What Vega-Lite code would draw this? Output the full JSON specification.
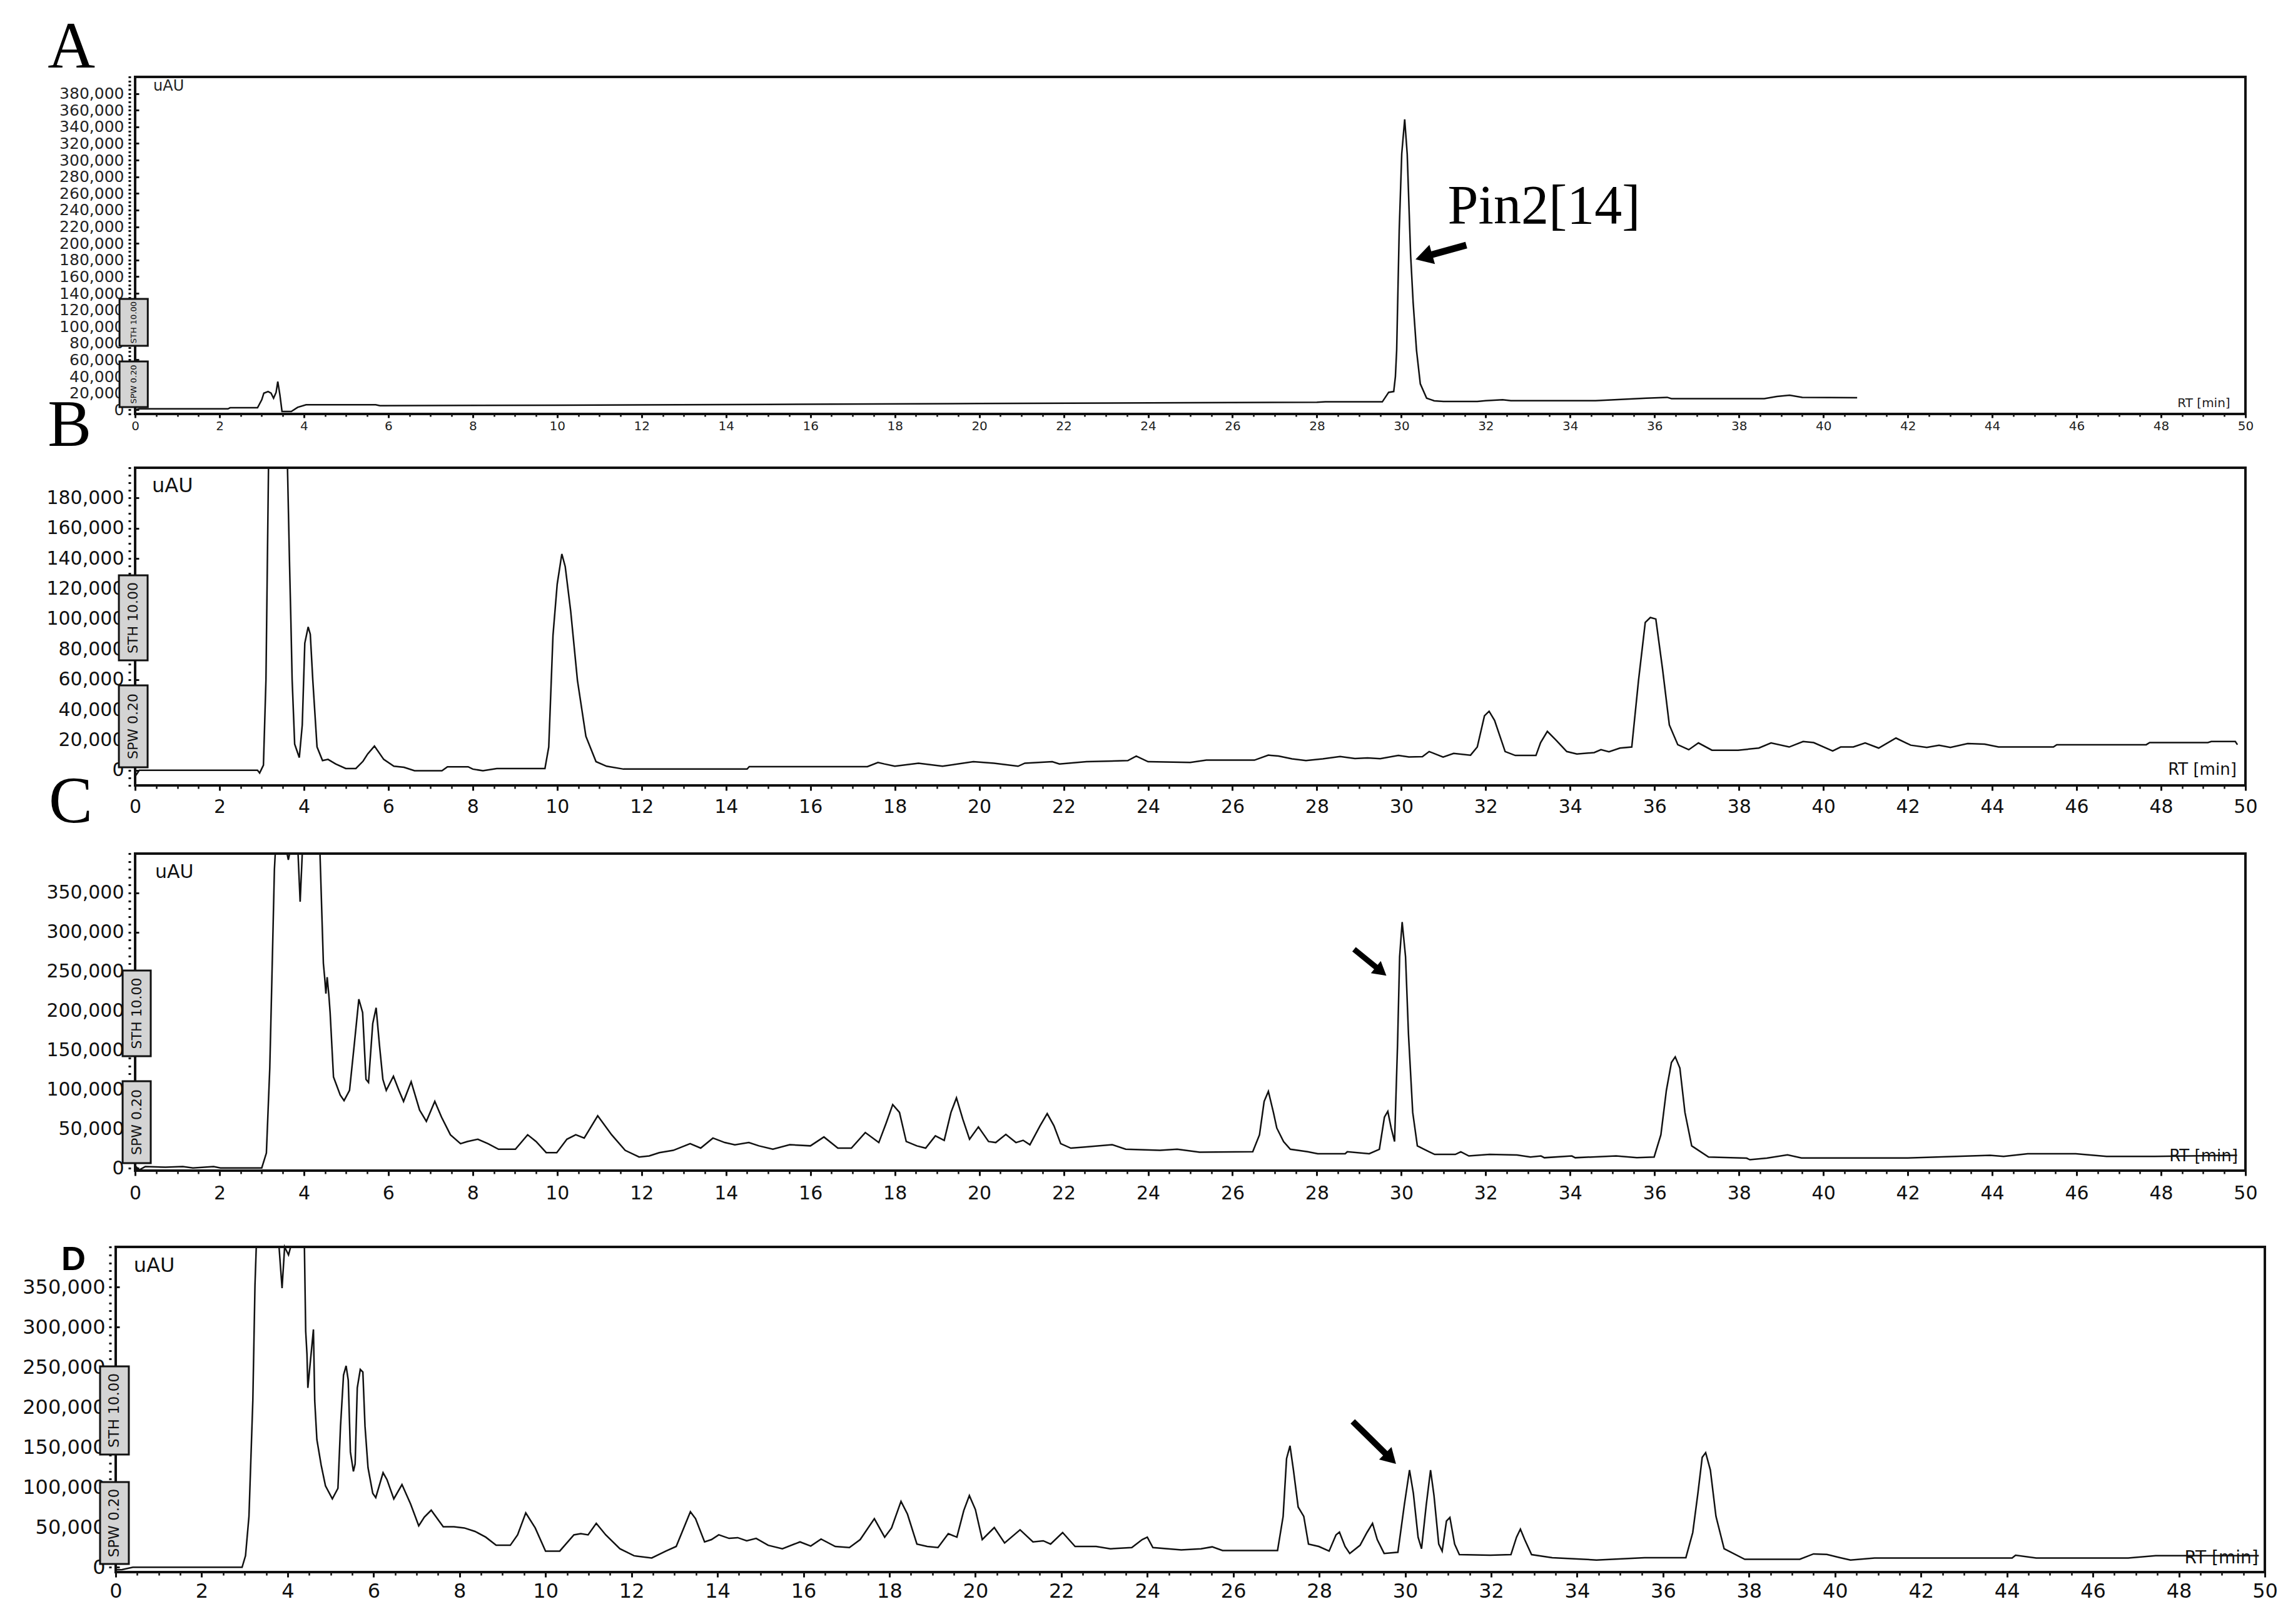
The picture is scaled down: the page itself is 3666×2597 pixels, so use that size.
{
"$schema":"https://vega.github.io/schema/vega-lite/v6.json",
"background":"white",
"padding":0,
"config":{"view":{"stroke":null}},
"spacing":86,
"bounds":"flush",
"datasets":{
"A":[{"t":0,"v":0},{"t":0.1,"v":1200},{"t":2.2,"v":1200},{"t":2.25,"v":2500},{"t":2.9,"v":2500},{"t":3.0,"v":12000},{"t":3.05,"v":20000},{"t":3.15,"v":22000},{"t":3.22,"v":20000},{"t":3.28,"v":14000},{"t":3.34,"v":21000},{"t":3.38,"v":34000},{"t":3.43,"v":18000},{"t":3.48,"v":-2000},{"t":3.7,"v":-2000},{"t":3.85,"v":3000},{"t":4.05,"v":6000},{"t":5.7,"v":6000},{"t":5.8,"v":5000},{"t":10,"v":5500},{"t":15,"v":6500},{"t":20,"v":7500},{"t":25,"v":8500},{"t":28,"v":9000},{"t":28.2,"v":9600},{"t":29.55,"v":9600},{"t":29.7,"v":21000},{"t":29.82,"v":22000},{"t":29.86,"v":40000},{"t":29.89,"v":71600},{"t":29.95,"v":215000},{"t":30.01,"v":307600},{"t":30.08,"v":349000},{"t":30.14,"v":307000},{"t":30.22,"v":186600},{"t":30.28,"v":129000},{"t":30.36,"v":71600},{"t":30.45,"v":31200},{"t":30.6,"v":14000},{"t":30.78,"v":10800},{"t":31.0,"v":10000},{"t":31.8,"v":10000},{"t":32.0,"v":11000},{"t":32.4,"v":12000},{"t":32.6,"v":11000},{"t":34.6,"v":11000},{"t":35.2,"v":12500},{"t":35.8,"v":14000},{"t":36.3,"v":15000},{"t":36.4,"v":13500},{"t":38.6,"v":13500},{"t":38.9,"v":16000},{"t":39.2,"v":17500},{"t":39.5,"v":15000},{"t":40.8,"v":14500}],
"B":[{"t":0,"v":-4000},{"t":0.1,"v":0},{"t":2.9,"v":0},{"t":2.95,"v":-1800},{"t":3.04,"v":3400},{"t":3.1,"v":60000},{"t":3.16,"v":200000},{"t":3.61,"v":200000},{"t":3.66,"v":134700},{"t":3.69,"v":99300},{"t":3.72,"v":60000},{"t":3.78,"v":17300},{"t":3.89,"v":8400},{"t":3.96,"v":30000},{"t":4.02,"v":84000},{"t":4.1,"v":94800},{"t":4.15,"v":90000},{"t":4.21,"v":59400},{"t":4.31,"v":15400},{"t":4.44,"v":6400},{"t":4.57,"v":7200},{"t":4.75,"v":4200},{"t":4.99,"v":1200},{"t":5.23,"v":1200},{"t":5.4,"v":6000},{"t":5.51,"v":10800},{"t":5.67,"v":16000},{"t":5.89,"v":7200},{"t":6.13,"v":2700},{"t":6.37,"v":2000},{"t":6.62,"v":-300},{"t":7.27,"v":-300},{"t":7.4,"v":2300},{"t":7.89,"v":2300},{"t":8.0,"v":800},{"t":8.24,"v":-300},{"t":8.57,"v":1200},{"t":9.71,"v":1200},{"t":9.8,"v":15400},{"t":9.9,"v":89000},{"t":10.0,"v":123000},{"t":10.11,"v":143000},{"t":10.19,"v":134700},{"t":10.32,"v":105200},{"t":10.48,"v":59400},{"t":10.68,"v":22500},{"t":10.92,"v":5700},{"t":11.17,"v":2700},{"t":11.57,"v":800},{"t":14.5,"v":800},{"t":14.55,"v":2400},{"t":17.35,"v":2400},{"t":17.6,"v":5200},{"t":17.75,"v":4200},{"t":18.0,"v":2700},{"t":18.56,"v":4700},{"t":19.13,"v":2700},{"t":19.86,"v":5700},{"t":20.35,"v":4700},{"t":20.92,"v":2700},{"t":21.08,"v":4700},{"t":21.73,"v":5700},{"t":21.9,"v":4200},{"t":22.54,"v":5700},{"t":23.52,"v":6400},{"t":23.72,"v":9400},{"t":24.0,"v":5700},{"t":25.0,"v":5200},{"t":25.38,"v":6700},{"t":26.52,"v":6700},{"t":26.85,"v":10000},{"t":27.09,"v":9400},{"t":27.41,"v":7600},{"t":27.74,"v":6400},{"t":28.14,"v":7600},{"t":28.55,"v":9100},{"t":28.9,"v":7800},{"t":29.2,"v":8200},{"t":29.5,"v":7700},{"t":29.93,"v":9800},{"t":30.18,"v":8800},{"t":30.5,"v":9000},{"t":30.66,"v":12400},{"t":30.99,"v":8700},{"t":31.24,"v":11200},{"t":31.64,"v":10000},{"t":31.8,"v":15400},{"t":31.97,"v":36000},{"t":32.08,"v":39000},{"t":32.21,"v":33000},{"t":32.46,"v":12400},{"t":32.7,"v":9800},{"t":33.19,"v":9800},{"t":33.3,"v":18300},{"t":33.46,"v":25700},{"t":33.67,"v":19800},{"t":33.92,"v":12400},{"t":34.16,"v":10800},{"t":34.57,"v":11700},{"t":34.73,"v":13600},{"t":34.92,"v":12200},{"t":35.18,"v":14700},{"t":35.46,"v":15400},{"t":35.62,"v":59400},{"t":35.78,"v":97800},{"t":35.9,"v":101000},{"t":36.03,"v":100000},{"t":36.19,"v":66800},{"t":36.35,"v":30000},{"t":36.55,"v":16900},{"t":36.81,"v":13600},{"t":37.04,"v":18100},{"t":37.36,"v":13300},{"t":37.98,"v":13300},{"t":38.47,"v":14700},{"t":38.76,"v":18100},{"t":39.19,"v":15400},{"t":39.52,"v":19000},{"t":39.77,"v":18300},{"t":40.22,"v":12800},{"t":40.41,"v":15400},{"t":40.71,"v":15400},{"t":40.99,"v":18100},{"t":41.31,"v":14700},{"t":41.72,"v":21300},{"t":42.07,"v":16600},{"t":42.45,"v":15100},{"t":42.74,"v":16600},{"t":43.01,"v":15100},{"t":43.42,"v":17700},{"t":43.82,"v":17300},{"t":44.15,"v":15400},{"t":45.45,"v":15400},{"t":45.53,"v":16900},{"t":47.65,"v":16900},{"t":47.73,"v":18300},{"t":49.11,"v":18300},{"t":49.19,"v":19000},{"t":49.76,"v":19000},{"t":49.81,"v":16900}],
"C":[{"t":0,"v":3000},{"t":0.1,"v":-2000},{"t":0.24,"v":2100},{"t":0.72,"v":1300},{"t":1.13,"v":2100},{"t":1.37,"v":400},{"t":1.86,"v":2100},{"t":2.02,"v":400},{"t":3.0,"v":400},{"t":3.11,"v":19400},{"t":3.19,"v":127000},{"t":3.24,"v":240000},{"t":3.3,"v":380000},{"t":3.32,"v":400000},{"t":3.6,"v":400000},{"t":3.63,"v":392000},{"t":3.66,"v":400000},{"t":3.86,"v":400000},{"t":3.91,"v":338800},{"t":3.96,"v":400000},{"t":4.38,"v":400000},{"t":4.46,"v":260700},{"t":4.49,"v":243000},{"t":4.52,"v":222000},{"t":4.55,"v":243000},{"t":4.59,"v":220000},{"t":4.62,"v":198000},{"t":4.7,"v":116000},{"t":4.86,"v":93000},{"t":4.95,"v":86000},{"t":5.08,"v":99000},{"t":5.19,"v":156000},{"t":5.3,"v":215000},{"t":5.39,"v":198000},{"t":5.47,"v":113000},{"t":5.53,"v":109000},{"t":5.63,"v":184000},{"t":5.71,"v":204000},{"t":5.79,"v":156000},{"t":5.87,"v":113000},{"t":5.95,"v":99000},{"t":6.12,"v":117000},{"t":6.25,"v":99000},{"t":6.36,"v":85000},{"t":6.54,"v":110000},{"t":6.74,"v":74000},{"t":6.9,"v":59600},{"t":7.1,"v":85000},{"t":7.26,"v":65000},{"t":7.47,"v":42600},{"t":7.71,"v":31300},{"t":7.87,"v":34000},{"t":8.12,"v":36900},{"t":8.36,"v":31300},{"t":8.61,"v":24200},{"t":9.01,"v":24200},{"t":9.3,"v":42600},{"t":9.5,"v":34000},{"t":9.74,"v":19900},{"t":9.99,"v":19900},{"t":10.23,"v":36900},{"t":10.44,"v":42600},{"t":10.64,"v":38400},{"t":10.96,"v":66700},{"t":11.29,"v":42600},{"t":11.61,"v":22800},{"t":11.94,"v":14300},{"t":12.18,"v":15700},{"t":12.42,"v":19900},{"t":12.75,"v":22800},{"t":13.15,"v":31300},{"t":13.4,"v":25600},{"t":13.69,"v":38400},{"t":13.97,"v":32700},{"t":14.21,"v":29900},{"t":14.54,"v":32700},{"t":14.78,"v":28500},{"t":15.11,"v":24200},{"t":15.51,"v":29900},{"t":16.0,"v":28500},{"t":16.32,"v":39800},{"t":16.65,"v":25600},{"t":16.97,"v":25600},{"t":17.3,"v":45400},{"t":17.62,"v":32700},{"t":17.79,"v":56800},{"t":17.95,"v":80900},{"t":18.11,"v":71000},{"t":18.27,"v":34000},{"t":18.52,"v":28500},{"t":18.73,"v":25600},{"t":18.96,"v":41200},{"t":19.17,"v":35500},{"t":19.33,"v":71000},{"t":19.46,"v":89400},{"t":19.61,"v":62500},{"t":19.77,"v":36900},{"t":19.98,"v":52600},{"t":20.22,"v":34000},{"t":20.39,"v":32700},{"t":20.63,"v":43100},{"t":20.87,"v":32700},{"t":21.04,"v":35500},{"t":21.2,"v":29900},{"t":21.44,"v":54000},{"t":21.61,"v":69500},{"t":21.77,"v":54000},{"t":21.93,"v":31300},{"t":22.17,"v":25600},{"t":22.5,"v":27000},{"t":23.15,"v":29900},{"t":23.47,"v":24200},{"t":24.28,"v":22800},{"t":24.69,"v":24200},{"t":25.22,"v":20500},{"t":26.48,"v":21000},{"t":26.64,"v":42600},{"t":26.75,"v":85000},{"t":26.85,"v":97700},{"t":26.97,"v":71000},{"t":27.05,"v":51100},{"t":27.21,"v":34000},{"t":27.37,"v":24200},{"t":27.78,"v":21000},{"t":28.02,"v":18500},{"t":28.67,"v":18500},{"t":28.72,"v":21000},{"t":29.24,"v":18500},{"t":29.48,"v":24200},{"t":29.6,"v":65000},{"t":29.68,"v":72400},{"t":29.76,"v":51100},{"t":29.84,"v":34000},{"t":29.91,"v":156000},{"t":29.96,"v":269000},{"t":30.02,"v":313000},{"t":30.1,"v":269000},{"t":30.17,"v":170000},{"t":30.27,"v":71000},{"t":30.38,"v":28500},{"t":30.54,"v":24200},{"t":30.79,"v":17600},{"t":31.28,"v":17600},{"t":31.41,"v":21000},{"t":31.6,"v":15600},{"t":32.09,"v":17600},{"t":32.74,"v":16800},{"t":33.06,"v":14300},{"t":33.31,"v":15600},{"t":33.39,"v":13400},{"t":34.04,"v":15600},{"t":34.12,"v":13400},{"t":35.09,"v":15600},{"t":35.58,"v":13400},{"t":35.99,"v":14300},{"t":36.15,"v":42600},{"t":36.28,"v":99000},{"t":36.4,"v":134500},{"t":36.49,"v":141600},{"t":36.6,"v":127400},{"t":36.72,"v":71000},{"t":36.88,"v":28500},{"t":37.28,"v":14300},{"t":38.18,"v":12900},{"t":38.26,"v":10900},{"t":38.66,"v":12900},{"t":39.15,"v":17000},{"t":39.48,"v":13100},{"t":42.0,"v":13100},{"t":43.95,"v":16500},{"t":44.27,"v":15100},{"t":44.84,"v":18500},{"t":45.98,"v":18500},{"t":46.71,"v":15100},{"t":47.85,"v":15100},{"t":49.8,"v":16500}],
"D":[{"t":0,"v":-3000},{"t":0.15,"v":-2900},{"t":0.4,"v":0},{"t":2.94,"v":0},{"t":3.02,"v":14400},{"t":3.1,"v":63600},{"t":3.19,"v":208000},{"t":3.24,"v":352000},{"t":3.27,"v":400000},{"t":3.8,"v":400000},{"t":3.87,"v":348500},{"t":3.93,"v":400000},{"t":4.02,"v":390000},{"t":4.07,"v":400000},{"t":4.39,"v":400000},{"t":4.42,"v":294600},{"t":4.45,"v":265700},{"t":4.47,"v":224000},{"t":4.6,"v":297000},{"t":4.63,"v":208000},{"t":4.68,"v":159500},{"t":4.78,"v":127500},{"t":4.88,"v":101700},{"t":5.04,"v":85400},{"t":5.17,"v":98600},{"t":5.23,"v":176000},{"t":5.3,"v":240000},{"t":5.36,"v":251600},{"t":5.41,"v":233700},{"t":5.46,"v":144000},{"t":5.53,"v":119700},{"t":5.57,"v":129000},{"t":5.62,"v":224000},{"t":5.69,"v":247000},{"t":5.75,"v":243800},{"t":5.8,"v":176000},{"t":5.87,"v":124400},{"t":5.98,"v":92400},{"t":6.05,"v":87000},{"t":6.22,"v":118100},{"t":6.31,"v":109600},{"t":6.47,"v":85400},{"t":6.66,"v":103300},{"t":6.86,"v":79100},{"t":7.05,"v":51800},{"t":7.18,"v":62700},{"t":7.34,"v":71300},{"t":7.62,"v":50600},{"t":7.87,"v":50600},{"t":8.11,"v":49100},{"t":8.36,"v":44800},{"t":8.61,"v":37600},{"t":8.85,"v":27500},{"t":9.18,"v":27500},{"t":9.35,"v":40500},{"t":9.54,"v":67900},{"t":9.76,"v":49100},{"t":10.0,"v":20200},{"t":10.33,"v":20200},{"t":10.66,"v":40500},{"t":10.82,"v":42000},{"t":10.99,"v":40500},{"t":11.18,"v":54900},{"t":11.4,"v":40500},{"t":11.73,"v":23100},{"t":12.06,"v":14400},{"t":12.47,"v":11600},{"t":12.8,"v":20200},{"t":13.04,"v":26000},{"t":13.26,"v":54900},{"t":13.37,"v":69300},{"t":13.49,"v":60700},{"t":13.7,"v":31700},{"t":13.86,"v":34600},{"t":14.03,"v":40500},{"t":14.27,"v":36100},{"t":14.47,"v":37000},{"t":14.68,"v":33100},{"t":14.9,"v":36100},{"t":15.18,"v":27500},{"t":15.51,"v":23100},{"t":15.92,"v":31700},{"t":16.17,"v":26500},{"t":16.41,"v":35200},{"t":16.74,"v":26000},{"t":17.07,"v":24600},{"t":17.32,"v":34600},{"t":17.65,"v":60700},{"t":17.89,"v":37600},{"t":18.05,"v":49100},{"t":18.27,"v":82300},{"t":18.42,"v":66400},{"t":18.64,"v":29000},{"t":18.88,"v":26000},{"t":19.13,"v":24600},{"t":19.37,"v":42000},{"t":19.57,"v":37600},{"t":19.73,"v":70800},{"t":19.86,"v":89500},{"t":20.0,"v":72200},{"t":20.16,"v":34600},{"t":20.44,"v":49600},{"t":20.68,"v":30300},{"t":21.04,"v":46800},{"t":21.34,"v":31700},{"t":21.58,"v":33100},{"t":21.75,"v":29000},{"t":22.03,"v":43400},{"t":22.32,"v":26000},{"t":22.81,"v":26000},{"t":23.14,"v":23100},{"t":23.64,"v":24600},{"t":23.88,"v":34600},{"t":24.0,"v":37600},{"t":24.13,"v":24600},{"t":24.79,"v":21700},{"t":25.25,"v":23100},{"t":25.51,"v":25500},{"t":25.75,"v":20900},{"t":27.03,"v":20900},{"t":27.16,"v":63600},{"t":27.24,"v":135800},{"t":27.32,"v":151700},{"t":27.4,"v":121400},{"t":27.51,"v":75200},{"t":27.64,"v":63600},{"t":27.75,"v":28900},{"t":27.99,"v":26000},{"t":28.23,"v":20200},{"t":28.39,"v":40500},{"t":28.47,"v":43900},{"t":28.6,"v":26000},{"t":28.71,"v":17300},{"t":28.95,"v":27500},{"t":29.11,"v":43400},{"t":29.24,"v":54900},{"t":29.35,"v":34600},{"t":29.51,"v":17300},{"t":29.83,"v":18800},{"t":29.98,"v":78000},{"t":30.1,"v":121400},{"t":30.19,"v":92500},{"t":30.3,"v":37600},{"t":30.38,"v":23100},{"t":30.49,"v":78000},{"t":30.59,"v":121400},{"t":30.67,"v":89500},{"t":30.78,"v":29000},{"t":30.86,"v":20200},{"t":30.96,"v":57800},{"t":31.04,"v":62200},{"t":31.15,"v":29000},{"t":31.26,"v":15800},{"t":31.98,"v":15000},{"t":32.46,"v":15800},{"t":32.59,"v":37600},{"t":32.68,"v":47700},{"t":32.78,"v":34600},{"t":32.94,"v":15800},{"t":33.42,"v":12000},{"t":34.45,"v":9100},{"t":35.57,"v":12000},{"t":36.53,"v":12000},{"t":36.69,"v":43400},{"t":36.81,"v":92500},{"t":36.91,"v":137300},{"t":36.99,"v":143100},{"t":37.1,"v":121400},{"t":37.23,"v":63600},{"t":37.42,"v":23100},{"t":37.9,"v":10000},{"t":39.18,"v":10000},{"t":39.5,"v":16700},{"t":39.81,"v":16000},{"t":40.12,"v":12000},{"t":40.36,"v":9100},{"t":40.92,"v":11500},{"t":44.12,"v":11500},{"t":44.2,"v":15000},{"t":44.68,"v":11500},{"t":46.82,"v":11500},{"t":47.46,"v":14400},{"t":49.86,"v":14400}]
},
"vconcat":[
{
"width":3436,"height":539,
"resolve":{"axis":{"x":"independent","y":"independent"}},
"layer":[
{"data":{"name":"A"},"mark":{"type":"line","color":"#111","strokeWidth":2.5},
"encoding":{
"x":{"field":"t","type":"quantitative","scale":{"domain":[-0.46,50.46],"nice":false,"zero":false},"axis":{"orient":"bottom","values":[0,2,4,6,8,10,12,14,16,18,20,22,24,26,28,30,32,34,36,38,40,42,44,46,48,50],"title":null,"domain":false,"grid":false,"tickSize":6,"tickWidth":3,"tickColor":"#111","labelPadding":3,"labelFont":"DejaVu Sans","labelFontSize":20,"labelColor":"#222","labelFlush":false,"labelOverlap":false}},
"y":{"field":"v","type":"quantitative","scale":{"domain":[-5000,400000],"nice":false,"zero":false},"axis":{"orient":"left","values":[0,20000,40000,60000,80000,100000,120000,140000,160000,180000,200000,220000,240000,260000,280000,300000,320000,340000,360000,380000],"format":",d","offset":-31,"title":null,"domain":false,"grid":false,"tickSize":-6,"tickWidth":3,"tickColor":"#111","labelPadding":24,"labelFont":"DejaVu Sans","labelFontSize":25,"labelColor":"#222","labelOverlap":false,"labelFlush":false}}}},
{"data":{"values":[{}]},"mark":{"type":"rect","filled":false,"color":"#111","strokeWidth":4},
"encoding":{
"x":{"datum":0,"type":"quantitative","axis":{"orient":"bottom","tickCount":100,"labels":false,"title":null,"domain":false,"grid":false,"tickSize":4,"tickWidth":2.5,"tickColor":"#111"}},
"x2":{"datum":50},
"y":{"datum":-5000,"type":"quantitative","axis":{"orient":"left","tickCount":81,"offset":-24,"labels":false,"title":null,"domain":false,"grid":false,"tickSize":4,"tickWidth":3,"tickColor":"#111"}},
"y2":{"datum":400000}}},
{"data":{"values":[{}]},"mark":{"type":"rect","fill":"#d4d4d4","stroke":"#111","strokeWidth":3},"encoding":{"x":{"datum":-0.37,"type":"quantitative","axis":null},"x2":{"datum":0.3},"y":{"datum":76900,"type":"quantitative","axis":null},"y2":{"datum":133250}}},
{"data":{"values":[{}]},"mark":{"type":"rect","fill":"#d4d4d4","stroke":"#111","strokeWidth":3},"encoding":{"x":{"datum":-0.37,"type":"quantitative","axis":null},"x2":{"datum":0.3},"y":{"datum":3300,"type":"quantitative","axis":null},"y2":{"datum":58100}}},
{"data":{"values":[{}]},"mark":{"type":"text","text":"STH 10.00","angle":270,"align":"center","baseline":"middle","font":"DejaVu Sans","fontSize":13,"color":"#111"},"encoding":{"x":{"datum":-0.035,"type":"quantitative","axis":null},"y":{"datum":105000,"type":"quantitative","axis":null}}},
{"data":{"values":[{}]},"mark":{"type":"text","text":"SPW 0.20","angle":270,"align":"center","baseline":"middle","font":"DejaVu Sans","fontSize":13,"color":"#111"},"encoding":{"x":{"datum":-0.035,"type":"quantitative","axis":null},"y":{"datum":30700,"type":"quantitative","axis":null}}},
{"data":{"values":[{}]},"mark":{"type":"text","text":"uAU","align":"left","baseline":"alphabetic","font":"DejaVu Sans","fontSize":24,"color":"#222"},"encoding":{"x":{"datum":0.43,"type":"quantitative","axis":null},"y":{"datum":383500,"type":"quantitative","axis":null}}},
{"data":{"values":[{}]},"mark":{"type":"text","text":"RT [min]","align":"right","baseline":"alphabetic","font":"DejaVu Sans","fontSize":20,"color":"#222"},"encoding":{"x":{"datum":49.64,"type":"quantitative","axis":null},"y":{"datum":3300,"type":"quantitative","axis":null}}},
{"data":{"values":[{}]},"mark":{"type":"text","text":"A","align":"left","baseline":"alphabetic","font":"Liberation Serif","fontSize":105,"color":"#000"},"encoding":{"x":{"datum":-2.07,"type":"quantitative","axis":null},"y":{"datum":411300,"type":"quantitative","axis":null}}},
{"data":{"values":[{}]},"mark":{"type":"text","text":"Pin2[14]","align":"left","baseline":"alphabetic","font":"Liberation Serif","fontSize":88,"color":"#000"},"encoding":{"x":{"datum":31.1,"type":"quantitative","axis":null},"y":{"datum":224200,"type":"quantitative","axis":null}}},
{"data":{"values":[{}]},"mark":{"type":"rule","color":"#000","strokeWidth":11,"strokeCap":"butt"},"encoding":{"x":{"datum":31.54,"type":"quantitative","axis":null},"x2":{"datum":30.6},"y":{"datum":197900,"type":"quantitative","axis":null},"y2":{"datum":184700}}},
{"data":{"values":[{}]},"mark":{"type":"point","shape":"triangle","filled":true,"color":"#000","opacity":1,"size":1024,"angle":254},"encoding":{"x":{"datum":30.6,"type":"quantitative","axis":null},"y":{"datum":184700,"type":"quantitative","axis":null}}},
{"data":{"values":[{}]},"mark":{"type":"rule","opacity":0},"encoding":{"x":{"datum":-3.2,"type":"quantitative","axis":null},"x2":{"datum":-3.2},"y":{"datum":491700,"type":"quantitative","axis":null},"y2":{"datum":491700}}}
]
},
{
"width":3436,"height":508,
"resolve":{"axis":{"x":"independent","y":"independent"}},
"layer":[
{"data":{"name":"B"},"mark":{"type":"line","color":"#111","strokeWidth":2.5},
"encoding":{
"x":{"field":"t","type":"quantitative","scale":{"domain":[-0.46,50.46],"nice":false,"zero":false},"axis":{"orient":"bottom","values":[0,2,4,6,8,10,12,14,16,18,20,22,24,26,28,30,32,34,36,38,40,42,44,46,48,50],"title":null,"domain":false,"grid":false,"tickSize":8,"tickWidth":3,"tickColor":"#111","labelPadding":11,"labelFont":"DejaVu Sans","labelFontSize":30,"labelColor":"#111","labelFlush":false,"labelOverlap":false}},
"y":{"field":"v","type":"quantitative","scale":{"domain":[-10000,200000],"nice":false,"zero":false},"axis":{"orient":"left","values":[0,20000,40000,60000,80000,100000,120000,140000,160000,180000],"format":",d","offset":-31,"title":null,"domain":false,"grid":false,"tickSize":-6,"tickWidth":3,"tickColor":"#111","labelPadding":24,"labelFont":"DejaVu Sans","labelFontSize":30,"labelColor":"#111","labelOverlap":false,"labelFlush":false}}}},
{"data":{"values":[{}]},"mark":{"type":"rect","filled":false,"color":"#111","strokeWidth":4},
"encoding":{
"x":{"datum":0,"type":"quantitative","axis":{"orient":"bottom","tickCount":100,"labels":false,"title":null,"domain":false,"grid":false,"tickSize":5,"tickWidth":2.5,"tickColor":"#111"}},
"x2":{"datum":50},
"y":{"datum":-10000,"type":"quantitative","axis":{"orient":"left","tickCount":42,"offset":-24,"labels":false,"title":null,"domain":false,"grid":false,"tickSize":4,"tickWidth":3,"tickColor":"#111"}},
"y2":{"datum":200000}}},
{"data":{"values":[{}]},"mark":{"type":"rect","fill":"#d4d4d4","stroke":"#111","strokeWidth":3},"encoding":{"x":{"datum":-0.385,"type":"quantitative","axis":null},"x2":{"datum":0.296},"y":{"datum":72700,"type":"quantitative","axis":null},"y2":{"datum":128900}}},
{"data":{"values":[{}]},"mark":{"type":"rect","fill":"#d4d4d4","stroke":"#111","strokeWidth":3},"encoding":{"x":{"datum":-0.385,"type":"quantitative","axis":null},"x2":{"datum":0.296},"y":{"datum":2000,"type":"quantitative","axis":null},"y2":{"datum":56100}}},
{"data":{"values":[{}]},"mark":{"type":"text","text":"STH 10.00","angle":270,"align":"center","baseline":"middle","font":"DejaVu Sans","fontSize":22,"color":"#111"},"encoding":{"x":{"datum":-0.045,"type":"quantitative","axis":null},"y":{"datum":100800,"type":"quantitative","axis":null}}},
{"data":{"values":[{}]},"mark":{"type":"text","text":"SPW 0.20","angle":270,"align":"center","baseline":"middle","font":"DejaVu Sans","fontSize":22,"color":"#111"},"encoding":{"x":{"datum":-0.045,"type":"quantitative","axis":null},"y":{"datum":29050,"type":"quantitative","axis":null}}},
{"data":{"values":[{}]},"mark":{"type":"text","text":"uAU","align":"left","baseline":"alphabetic","font":"DejaVu Sans","fontSize":32,"color":"#111"},"encoding":{"x":{"datum":0.4,"type":"quantitative","axis":null},"y":{"datum":183900,"type":"quantitative","axis":null}}},
{"data":{"values":[{}]},"mark":{"type":"text","text":"RT [min]","align":"right","baseline":"alphabetic","font":"DejaVu Sans","fontSize":26,"color":"#111"},"encoding":{"x":{"datum":49.79,"type":"quantitative","axis":null},"y":{"datum":-3000,"type":"quantitative","axis":null}}},
{"data":{"values":[{}]},"mark":{"type":"text","text":"B","align":"left","baseline":"alphabetic","font":"Liberation Serif","fontSize":105,"color":"#000"},"encoding":{"x":{"datum":-2.07,"type":"quantitative","axis":null},"y":{"datum":214470,"type":"quantitative","axis":null}}}
]
},
{
"width":3436,"height":530,
"resolve":{"axis":{"x":"independent","y":"independent"}},
"layer":[
{"data":{"name":"C"},"mark":{"type":"line","color":"#111","strokeWidth":2.5},
"encoding":{
"x":{"field":"t","type":"quantitative","scale":{"domain":[-0.46,50.46],"nice":false,"zero":false},"axis":{"orient":"bottom","values":[0,2,4,6,8,10,12,14,16,18,20,22,24,26,28,30,32,34,36,38,40,42,44,46,48,50],"title":null,"domain":false,"grid":false,"tickSize":8,"tickWidth":3,"tickColor":"#111","labelPadding":13,"labelFont":"DejaVu Sans","labelFontSize":30,"labelColor":"#111","labelFlush":false,"labelOverlap":false}},
"y":{"field":"v","type":"quantitative","scale":{"domain":[-3000,418300],"nice":false,"zero":false},"axis":{"orient":"left","values":[0,50000,100000,150000,200000,250000,300000,350000],"format":",d","offset":-31,"title":null,"domain":false,"grid":false,"tickSize":-6,"tickWidth":3,"tickColor":"#111","labelPadding":24,"labelFont":"DejaVu Sans","labelFontSize":30,"labelColor":"#111","labelOverlap":false,"labelFlush":false}}}},
{"data":{"values":[{}]},"mark":{"type":"rect","filled":false,"color":"#111","strokeWidth":4},
"encoding":{
"x":{"datum":0,"type":"quantitative","axis":{"orient":"bottom","tickCount":100,"labels":false,"title":null,"domain":false,"grid":false,"tickSize":5,"tickWidth":2.5,"tickColor":"#111"}},
"x2":{"datum":50},
"y":{"datum":-3000,"type":"quantitative","axis":{"orient":"left","values":[0,10000,20000,30000,40000,50000,60000,70000,80000,90000,100000,110000,120000,130000,140000,150000,160000,170000,180000,190000,200000,210000,220000,230000,240000,250000,260000,270000,280000,290000,300000,310000,320000,330000,340000,350000,360000,370000,380000,390000,400000],"offset":-24,"labels":false,"title":null,"domain":false,"grid":false,"tickSize":4,"tickWidth":3,"tickColor":"#111"}},
"y2":{"datum":400000}}},
{"data":{"values":[{}]},"mark":{"type":"rect","fill":"#d4d4d4","stroke":"#111","strokeWidth":3},"encoding":{"x":{"datum":-0.296,"type":"quantitative","axis":null},"x2":{"datum":0.37},"y":{"datum":142400,"type":"quantitative","axis":null},"y2":{"datum":251400}}},
{"data":{"values":[{}]},"mark":{"type":"rect","fill":"#d4d4d4","stroke":"#111","strokeWidth":3},"encoding":{"x":{"datum":-0.296,"type":"quantitative","axis":null},"x2":{"datum":0.37},"y":{"datum":6500,"type":"quantitative","axis":null},"y2":{"datum":110700}}},
{"data":{"values":[{}]},"mark":{"type":"text","text":"STH 10.00","angle":270,"align":"center","baseline":"middle","font":"DejaVu Sans","fontSize":22,"color":"#111"},"encoding":{"x":{"datum":0.037,"type":"quantitative","axis":null},"y":{"datum":196900,"type":"quantitative","axis":null}}},
{"data":{"values":[{}]},"mark":{"type":"text","text":"SPW 0.20","angle":270,"align":"center","baseline":"middle","font":"DejaVu Sans","fontSize":22,"color":"#111"},"encoding":{"x":{"datum":0.037,"type":"quantitative","axis":null},"y":{"datum":58600,"type":"quantitative","axis":null}}},
{"data":{"values":[{}]},"mark":{"type":"text","text":"uAU","align":"left","baseline":"alphabetic","font":"DejaVu Sans","fontSize":30,"color":"#111"},"encoding":{"x":{"datum":0.474,"type":"quantitative","axis":null},"y":{"datum":369000,"type":"quantitative","axis":null}}},
{"data":{"values":[{}]},"mark":{"type":"text","text":"RT [min]","align":"right","baseline":"alphabetic","font":"DejaVu Sans","fontSize":26,"color":"#111"},"encoding":{"x":{"datum":49.82,"type":"quantitative","axis":null},"y":{"datum":8900,"type":"quantitative","axis":null}}},
{"data":{"values":[{}]},"mark":{"type":"text","text":"C","align":"left","baseline":"alphabetic","font":"Liberation Serif","fontSize":105,"color":"#000"},"encoding":{"x":{"datum":-2.045,"type":"quantitative","axis":null},"y":{"datum":439700,"type":"quantitative","axis":null}}},
{"data":{"values":[{}]},"mark":{"type":"rule","color":"#000","strokeWidth":9,"strokeCap":"butt"},"encoding":{"x":{"datum":28.88,"type":"quantitative","axis":null},"x2":{"datum":29.48},"y":{"datum":278400,"type":"quantitative","axis":null},"y2":{"datum":252100}}},
{"data":{"values":[{}]},"mark":{"type":"point","shape":"triangle","filled":true,"color":"#000","opacity":1,"size":625,"angle":129},"encoding":{"x":{"datum":29.48,"type":"quantitative","axis":null},"y":{"datum":252100,"type":"quantitative","axis":null}}}
]
},
{
"width":3436,"height":556,
"resolve":{"axis":{"x":"independent","y":"independent"}},
"layer":[
{"data":{"name":"D"},"mark":{"type":"line","color":"#111","strokeWidth":2.5},
"encoding":{
"x":{"field":"t","type":"quantitative","scale":{"domain":[0,50],"nice":false,"zero":false},"axis":{"orient":"bottom","values":[0,2,4,6,8,10,12,14,16,18,20,22,24,26,28,30,32,34,36,38,40,42,44,46,48,50],"title":null,"domain":false,"grid":false,"tickSize":8,"tickWidth":3,"tickColor":"#111","labelPadding":7,"labelFont":"DejaVu Sans","labelFontSize":32,"labelColor":"#111","labelFlush":false,"labelOverlap":false}},
"y":{"field":"v","type":"quantitative","scale":{"domain":[-6000,428100],"nice":false,"zero":false},"axis":{"orient":"left","values":[0,50000,100000,150000,200000,250000,300000,350000],"format":",d","offset":0,"title":null,"domain":false,"grid":false,"tickSize":-6,"tickWidth":3,"tickColor":"#111","labelPadding":23,"labelFont":"DejaVu Sans","labelFontSize":32,"labelColor":"#111","labelOverlap":false,"labelFlush":false}}}},
{"data":{"values":[{}]},"mark":{"type":"rect","filled":false,"color":"#111","strokeWidth":4},
"encoding":{
"x":{"datum":0,"type":"quantitative","axis":{"orient":"bottom","tickCount":100,"labels":false,"title":null,"domain":false,"grid":false,"tickSize":5,"tickWidth":2.5,"tickColor":"#111"}},
"x2":{"datum":50},
"y":{"datum":-6000,"type":"quantitative","axis":{"orient":"left","values":[0,10000,20000,30000,40000,50000,60000,70000,80000,90000,100000,110000,120000,130000,140000,150000,160000,170000,180000,190000,200000,210000,220000,230000,240000,250000,260000,270000,280000,290000,300000,310000,320000,330000,340000,350000,360000,370000,380000,390000,400000],"offset":7,"labels":false,"title":null,"domain":false,"grid":false,"tickSize":4,"tickWidth":3,"tickColor":"#111"}},
"y2":{"datum":400000}}},
{"data":{"values":[{}]},"mark":{"type":"rect","fill":"#d4d4d4","stroke":"#111","strokeWidth":3},"encoding":{"x":{"datum":-0.364,"type":"quantitative","axis":null},"x2":{"datum":0.305},"y":{"datum":140800,"type":"quantitative","axis":null},"y2":{"datum":250900}}},
{"data":{"values":[{}]},"mark":{"type":"rect","fill":"#d4d4d4","stroke":"#111","strokeWidth":3},"encoding":{"x":{"datum":-0.364,"type":"quantitative","axis":null},"x2":{"datum":0.305},"y":{"datum":4200,"type":"quantitative","axis":null},"y2":{"datum":106400}}},
{"data":{"values":[{}]},"mark":{"type":"text","text":"STH 10.00","angle":270,"align":"center","baseline":"middle","font":"DejaVu Sans","fontSize":23,"color":"#111"},"encoding":{"x":{"datum":-0.03,"type":"quantitative","axis":null},"y":{"datum":195850,"type":"quantitative","axis":null}}},
{"data":{"values":[{}]},"mark":{"type":"text","text":"SPW 0.20","angle":270,"align":"center","baseline":"middle","font":"DejaVu Sans","fontSize":23,"color":"#111"},"encoding":{"x":{"datum":-0.03,"type":"quantitative","axis":null},"y":{"datum":55300,"type":"quantitative","axis":null}}},
{"data":{"values":[{}]},"mark":{"type":"text","text":"uAU","align":"left","baseline":"alphabetic","font":"DejaVu Sans","fontSize":32,"color":"#111"},"encoding":{"x":{"datum":0.42,"type":"quantitative","axis":null},"y":{"datum":368800,"type":"quantitative","axis":null}}},
{"data":{"values":[{}]},"mark":{"type":"text","text":"RT [min]","align":"right","baseline":"alphabetic","font":"DejaVu Sans","fontSize":28,"color":"#111"},"encoding":{"x":{"datum":49.85,"type":"quantitative","axis":null},"y":{"datum":4900,"type":"quantitative","axis":null}}},
{"data":{"values":[{}]},"mark":{"type":"text","text":"D","align":"left","baseline":"alphabetic","font":"Liberation Sans","fontWeight":"bold","fontSize":54,"color":"#000"},"encoding":{"x":{"datum":-1.266,"type":"quantitative","axis":null},"y":{"datum":371100,"type":"quantitative","axis":null}}},
{"data":{"values":[{}]},"mark":{"type":"rule","color":"#000","strokeWidth":10,"strokeCap":"butt"},"encoding":{"x":{"datum":28.78,"type":"quantitative","axis":null},"x2":{"datum":29.62},"y":{"datum":182200,"type":"quantitative","axis":null},"y2":{"datum":137900}}},
{"data":{"values":[{}]},"mark":{"type":"point","shape":"triangle","filled":true,"color":"#000","opacity":1,"size":784,"angle":135},"encoding":{"x":{"datum":29.62,"type":"quantitative","axis":null},"y":{"datum":137900,"type":"quantitative","axis":null}}},
{"data":{"values":[{}]},"mark":{"type":"rule","opacity":0},"encoding":{"x":{"datum":50.5,"type":"quantitative","axis":null},"x2":{"datum":50.5},"y":{"datum":-66000,"type":"quantitative","axis":null},"y2":{"datum":-66000}}}
]
}
]
}
